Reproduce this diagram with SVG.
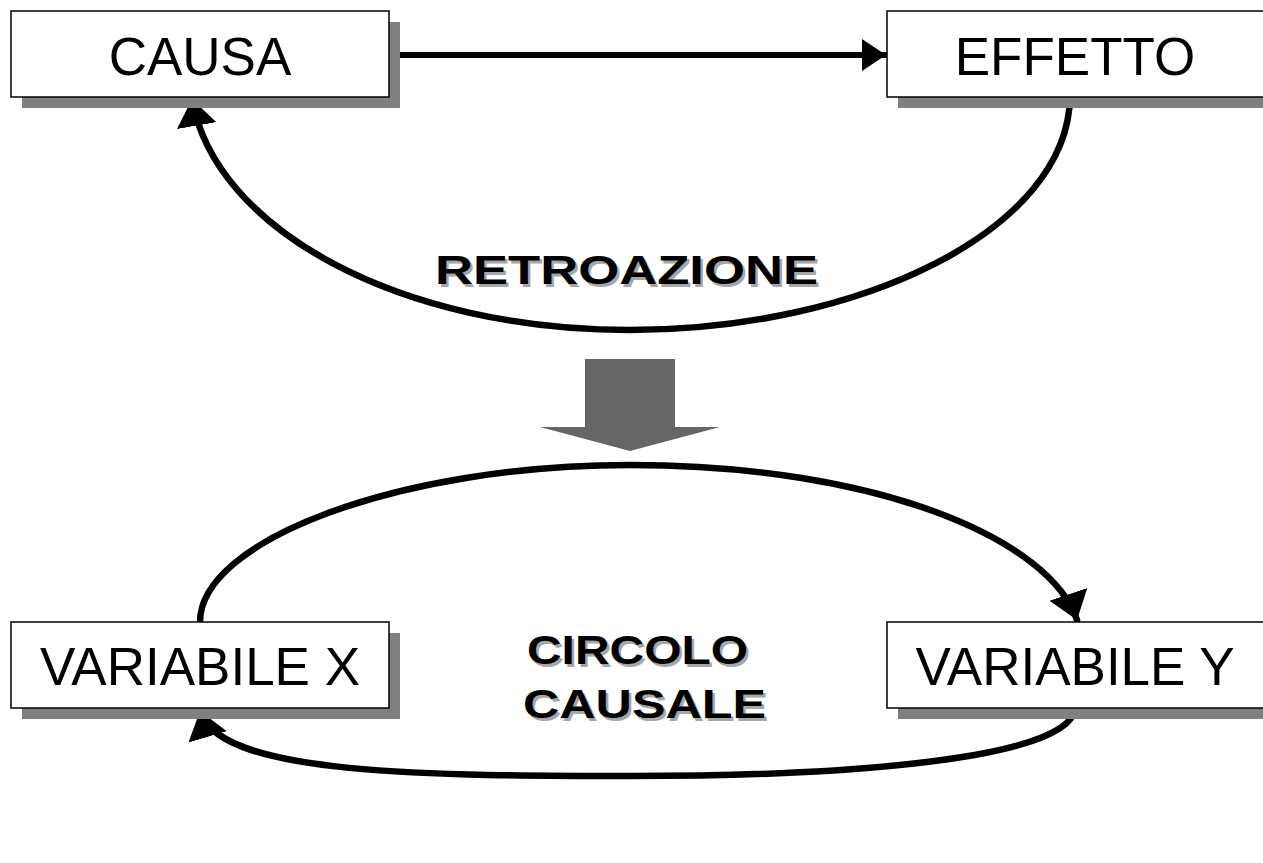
<svg xmlns="http://www.w3.org/2000/svg" width="1263" height="863" viewBox="0 0 1263 863">
  <style>
    .shadow { fill: #808080; }
    .box { fill: #ffffff; stroke: #000000; stroke-width: 1.5; }
    .label { font-family: "Liberation Sans", Arial, sans-serif; font-size: 53px; fill: #000000; text-anchor: middle; }
    .title { font-family: "Liberation Sans", Arial, sans-serif; font-size: 40px; font-weight: bold; }
    .title-shade { fill: #a6a6a6; }
    .title-ink { fill: #000000; }
    .conn { fill: none; stroke: #000000; stroke-linecap: round; }
  </style>
  <defs>
    <marker id="head-straight" markerUnits="userSpaceOnUse" markerWidth="30" markerHeight="36" refX="24" refY="16" orient="auto">
      <path d="M0,0 L24,16 L0,32 Z" fill="#000000"/>
    </marker>
    <marker id="head-curve" markerUnits="userSpaceOnUse" markerWidth="32" markerHeight="44" refX="27" refY="20" orient="auto">
      <path d="M0,0 L27,20 L0,40 Z" fill="#000000"/>
    </marker>
  </defs>

  <rect width="1263" height="863" fill="#ffffff"/>

  <!-- connectors -->
  <g id="connectors">
    <line class="conn" x1="389" y1="55" x2="886" y2="55" stroke-width="6" marker-end="url(#head-straight)"/>
    <path class="conn" stroke-width="6.5" d="M1070,97 C1068,230 860,330 630,330 C400,330 215,230 192,99" marker-end="url(#head-curve)"/>
    <path class="conn" stroke-width="6.5" d="M200,622 C200,540 400,465 630,465 C880,465 1050,540 1077,620" marker-end="url(#head-curve)"/>
    <path class="conn" stroke-width="6.5" d="M1075,708 C1072,752 900,776 630,776 C400,776 218,772 200,711" marker-end="url(#head-curve)"/>
  </g>

  <!-- broad grey arrow between the two schemes -->
  <g id="transition-arrow">
    <polygon points="585,359 675,359 675,427 720,427 630,451 540,427 585,427" fill="#666666"/>
  </g>

  <g id="node-causa">
    <rect class="shadow" x="22" y="22" width="378" height="86"/>
    <rect class="box" x="11" y="11" width="378" height="86"/>
    <text class="label" x="200" y="75">CAUSA</text>
  </g>

  <g id="node-effetto">
    <rect class="shadow" x="898" y="22" width="378" height="86"/>
    <rect class="box" x="887" y="11" width="378" height="86"/>
    <text class="label" x="1075" y="75">EFFETTO</text>
  </g>

  <g id="node-variabile-x">
    <rect class="shadow" x="22" y="633" width="378" height="86"/>
    <rect class="box" x="11" y="622" width="378" height="86"/>
    <text class="label" x="200" y="685">VARIABILE X</text>
  </g>

  <g id="node-variabile-y">
    <rect class="shadow" x="898" y="633" width="378" height="86"/>
    <rect class="box" x="887" y="622" width="378" height="86"/>
    <text class="label" x="1075" y="685">VARIABILE Y</text>
  </g>

  <g id="label-retroazione">
    <text class="title title-shade" x="437.5" y="286.5" textLength="383" lengthAdjust="spacingAndGlyphs">RETROAZIONE</text>
    <text class="title title-ink" x="435" y="284" textLength="383" lengthAdjust="spacingAndGlyphs">RETROAZIONE</text>
  </g>

  <g id="label-circolo-causale">
    <text class="title title-shade" x="529.5" y="666.5" textLength="221" lengthAdjust="spacingAndGlyphs">CIRCOLO</text>
    <text class="title title-ink" x="527" y="664" textLength="221" lengthAdjust="spacingAndGlyphs">CIRCOLO</text>
    <text class="title title-shade" x="525.5" y="720.5" textLength="243" lengthAdjust="spacingAndGlyphs">CAUSALE</text>
    <text class="title title-ink" x="523" y="718" textLength="243" lengthAdjust="spacingAndGlyphs">CAUSALE</text>
  </g>
</svg>
